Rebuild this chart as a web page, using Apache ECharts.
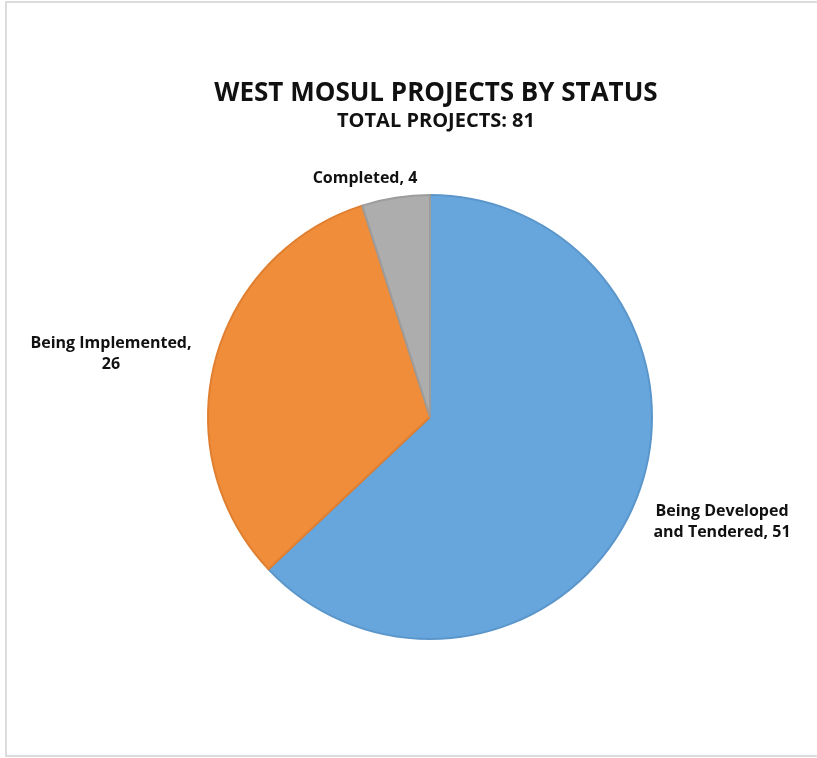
<!DOCTYPE html>
<html>
<head>
<meta charset="utf-8">
<script src="https://cdn.jsdelivr.net/npm/echarts@6/dist/echarts.min.js"></script>
<style>
html,body{margin:0;padding:0;background:#fff;}
#chart{width:817px;height:758px;}
</style>
</head>
<body>
<div id="chart"></div>
<script>
const categories = ['Being Developed and Tendered', 'Being Implemented', 'Completed'];
const labelNames = ['Being Developed\nand Tendered, ', 'Being Implemented,\n', 'Completed, '];
const values = [51, 26, 4];
const colors = ['#67a6dc', '#f08d3b', '#adadad'];
const borderColors = ['#5b96cb', '#e07f30', '#9c9c9c'];
const titleText = 'WEST MOSUL PROJECTS BY STATUS';
const subtitleText = 'TOTAL PROJECTS: 81';

const labelPos = [[722, 522], [111, 354], [365, 178]];

const chart = echarts.init(document.getElementById('chart'));
chart.setOption({
  backgroundColor: '#fff',
  animation: false,
  graphic: [{
    type: 'rect',
    shape: {x: 6, y: 2, width: 830, height: 754},
    style: {fill: 'none', stroke: '#dcdcdc', lineWidth: 2},
    silent: true
  }],
  title: {
    text: titleText,
    subtext: subtitleText,
    left: 431,
    textAlign: 'center',
    top: 76,
    itemGap: 4,
    textStyle: {fontFamily: 'Open Sans', fontWeight: 'bold', fontSize: 26, color: '#111'},
    subtextStyle: {fontFamily: 'Open Sans', fontWeight: 'bold', fontSize: 20, color: '#111'}
  },
  series: [{
    type: 'pie',
    center: [430, 417],
    radius: 222,
    startAngle: 90,
    clockwise: true,
    data: values.map((v, i) => ({
      name: categories[i],
      value: v,
      itemStyle: {color: colors[i], borderColor: borderColors[i], borderWidth: 2},
      label: {formatter: labelNames[i] + v}
    })),
    label: {
      show: true,
      position: 'outside',
      fontFamily: 'Open Sans',
      fontWeight: 'bold',
      fontSize: 16,
      lineHeight: 21,
      color: '#111',
      align: 'center',
      overflow: 'none',
      width: 300
    },
    labelLine: {show: false},
    labelLayout: function (params) {
      const p = labelPos[params.dataIndex];
      return {x: p[0], y: p[1], align: 'center', verticalAlign: 'middle'};
    },
    emphasis: {disabled: true}
  }]
});
</script>
</body>
</html>
